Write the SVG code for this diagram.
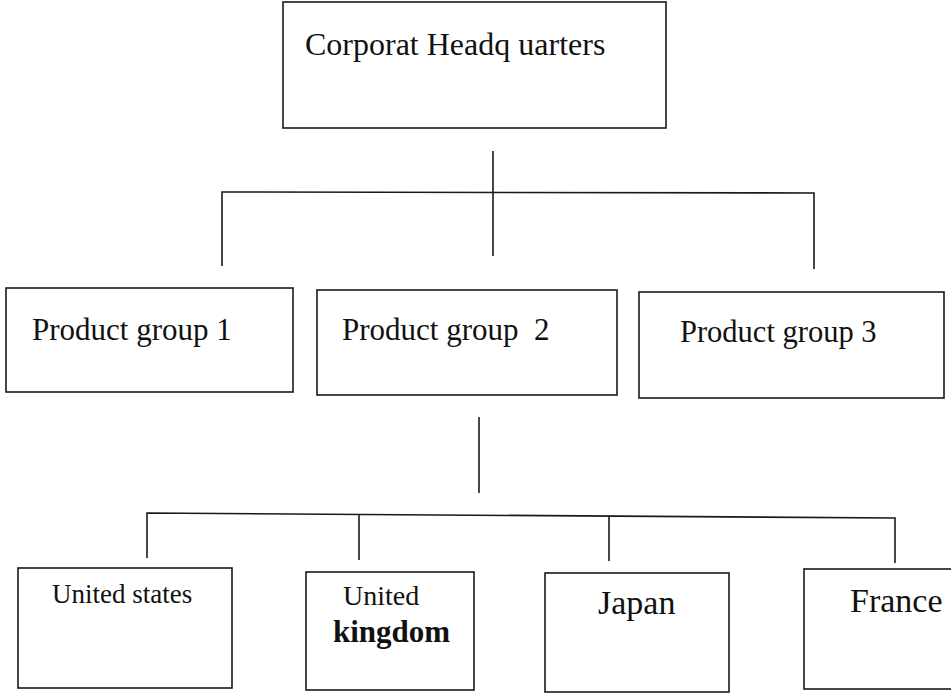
<svg xmlns="http://www.w3.org/2000/svg" width="951" height="694" viewBox="0 0 951 694">
  <style>
    .box { fill: #ffffff; stroke: #1a1a1a; stroke-width: 1.6; }
    .wire { fill: none; stroke: #1a1a1a; stroke-width: 1.6; }
    text { font-family: 'Liberation Serif', 'DejaVu Serif', serif; fill: #111111; }
    .bold { font-weight: bold; }
  </style>
  <rect width="951" height="694" fill="#ffffff"/>

  <!-- connectors -->
  <g id="connectors">
    <line class="wire" x1="493" y1="151" x2="493" y2="256"/>
    <polyline class="wire" points="222,266 222,192 814,193 814,269"/>
    <line class="wire" x1="479" y1="417" x2="479" y2="493"/>
    <polyline class="wire" points="147,558 147,513 895,518 895,563"/>
    <line class="wire" x1="359" y1="514" x2="359" y2="560"/>
    <line class="wire" x1="609" y1="516" x2="609" y2="561"/>
  </g>

  <!-- headquarters -->
  <g id="hq">
    <rect class="box" x="283" y="2" width="383" height="126"/>
    <text x="305" y="55" font-size="32" font-family="Liberation Serif, serif">Corporat Headq uarters</text>
  </g>

  <!-- product groups -->
  <g id="pg1">
    <rect class="box" x="6" y="288" width="287" height="104"/>
    <text x="32" y="340" font-size="31" font-family="Liberation Serif, serif">Product group 1</text>
  </g>
  <g id="pg2">
    <rect class="box" x="317" y="290" width="300" height="105"/>
    <text x="342" y="340" font-size="31" font-family="Liberation Serif, serif" xml:space="preserve">Product group  2</text>
  </g>
  <g id="pg3">
    <rect class="box" x="639" y="292" width="305" height="106"/>
    <text x="680" y="342" font-size="30.5" font-family="Liberation Serif, serif">Product group 3</text>
  </g>

  <!-- countries -->
  <g id="us">
    <rect class="box" x="18" y="568" width="214" height="120"/>
    <text x="52" y="603" font-size="27" font-family="Liberation Serif, serif">United states</text>
  </g>
  <g id="uk">
    <rect class="box" x="306" y="572" width="168" height="118"/>
    <text x="343" y="605" font-size="28" font-family="Liberation Serif, serif">United</text>
    <text class="bold" x="333" y="642" font-size="31" font-family="Liberation Serif, serif">kingdom</text>
  </g>
  <g id="japan">
    <rect class="box" x="545" y="573" width="184" height="119"/>
    <text x="598" y="614" font-size="34" font-family="Liberation Serif, serif">Japan</text>
  </g>
  <g id="france">
    <rect class="box" x="804" y="569" width="150" height="120"/>
    <text x="850" y="612" font-size="34" font-family="Liberation Serif, serif">France</text>
  </g>
</svg>
